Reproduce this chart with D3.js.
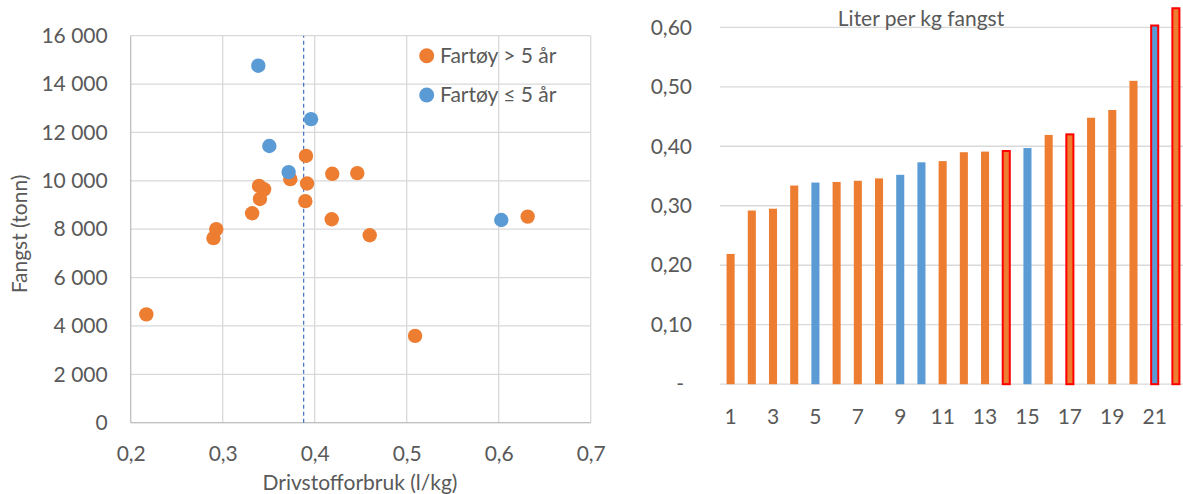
<!DOCTYPE html>
<html><head><meta charset="utf-8">
<script src="https://cdn.jsdelivr.net/npm/d3@7"></script>
<style>
body{margin:0;background:#fff;overflow:hidden}
text{font-family:Lato, "Open Sans", sans-serif; fill:#595959}
</style>
</head><body>
<svg id="c" width="1183" height="494"></svg>
<script>
// ---------- Data: scatter ----------
const olderX = [0.217, 0.290, 0.293, 0.332, 0.3395, 0.3405, 0.345, 0.3735, 0.3898, 0.3905, 0.3917, 0.4185, 0.4191, 0.4463, 0.4598, 0.5091, 0.6315];
const olderY = [4480, 7630, 8000, 8660, 9790, 9250, 9650, 10070, 9160, 11030, 9890, 8410, 10290, 10320, 7750, 3590, 8520];
const newerX = [0.3387, 0.3507, 0.3717, 0.396, 0.6028];
const newerY = [14760, 11440, 10360, 12550, 8380];
const meanX = 0.388;
const scatterXTicks = [0.2, 0.3, 0.4, 0.5, 0.6, 0.7];
const scatterYTicks = [0, 2000, 4000, 6000, 8000, 10000, 12000, 14000, 16000];
const legendLabels = ["Fartøy > 5 år", "Fartøy ≤ 5 år"];
const scatterXTitle = "Drivstofforbruk (l/kg)";
const scatterYTitle = "Fangst (tonn)";

// ---------- Data: bars ----------
const barCategories = [1,2,3,4,5,6,7,8,9,10,11,12,13,14,15,16,17,18,19,20,21,22];
const barValues = [0.219, 0.292, 0.295, 0.334, 0.339, 0.340, 0.342, 0.346, 0.352, 0.373, 0.375, 0.390, 0.391, 0.392, 0.397, 0.419, 0.420, 0.448, 0.461, 0.510, 0.603, 0.632];
const barGroups = ["o","o","o","o","n","o","o","o","n","n","o","o","o","o","n","o","o","o","o","o","n","o"];
const highlighted = [14, 17, 21, 22];
const barYTicks = [0, 0.1, 0.2, 0.3, 0.4, 0.5, 0.6];
const barXTicks = [1,3,5,7,9,11,13,15,17,19,21];
const barTitle = "Liter per kg fangst";

const ORANGE = "#ED7D31", BLUE = "#5B9BD5", GRID = "#D9D9D9", AXIS = "#BFBFBF";
const FS = 21;
const loc = d3.formatLocale({decimal: ",", thousands: "\u00a0", grouping: [3], currency: ["", ""]});

const svg = d3.select("#c");

// ================= Scatter =================
const x = d3.scaleLinear().domain([0.2, 0.7]).range([130.7, 590.7]);
const y = d3.scaleLinear().domain([0, 16000]).range([422.7, 35.7]);

const g1 = svg.append("g");
// horizontal grid
g1.append("g").selectAll("line").data(scatterYTicks).join("line")
  .attr("x1", x(0.2)).attr("x2", x(0.7)).attr("y1", d => y(d)).attr("y2", d => y(d))
  .attr("stroke", GRID).attr("stroke-width", 1.3);
// vertical grid
g1.append("g").selectAll("line").data(scatterXTicks.slice(1)).join("line")
  .attr("x1", d => x(d)).attr("x2", d => x(d)).attr("y1", y(0)).attr("y2", y(16000))
  .attr("stroke", GRID).attr("stroke-width", 1.3);
// axes lines
g1.append("line").attr("x1", x(0.2)).attr("x2", x(0.2)).attr("y1", y(0)).attr("y2", y(16000))
  .attr("stroke", AXIS).attr("stroke-width", 1.3);
g1.append("line").attr("x1", x(0.2)).attr("x2", x(0.7)).attr("y1", y(0)).attr("y2", y(0))
  .attr("stroke", AXIS).attr("stroke-width", 1.3);

// y axis labels
const yAx = g1.append("g").attr("transform", `translate(${x(0.2)},0)`)
  .call(d3.axisLeft(y).tickValues(scatterYTicks).tickSize(0).tickPadding(23).tickFormat(loc.format(",d")));
yAx.select(".domain").remove();
yAx.selectAll("text").attr("font-size", FS).style("font-family", "Lato").attr("fill", "#595959");

// x axis labels
const xAx = g1.append("g").attr("transform", `translate(0,${y(0)})`)
  .call(d3.axisBottom(x).tickValues(scatterXTicks).tickSize(0).tickPadding(23).tickFormat(loc.format(".1f")));
xAx.select(".domain").remove();
xAx.selectAll("text").attr("font-size", FS).style("font-family", "Lato").attr("fill", "#595959");

// mean dashed line
g1.append("line").attr("x1", x(meanX)).attr("x2", x(meanX)).attr("y1", y(0)).attr("y2", y(16000))
  .attr("stroke", "#4472C4").attr("stroke-width", 1.2).attr("stroke-dasharray", "4,3");

// points
g1.append("g").selectAll("circle").data(olderX.map((v, i) => [v, olderY[i]])).join("circle")
  .attr("cx", d => x(d[0])).attr("cy", d => y(d[1])).attr("r", 7.2).attr("fill", ORANGE);
g1.append("g").selectAll("circle").data(newerX.map((v, i) => [v, newerY[i]])).join("circle")
  .attr("cx", d => x(d[0])).attr("cy", d => y(d[1])).attr("r", 7.2).attr("fill", BLUE);

// legend
const lg = g1.append("g");
legendLabels.forEach((lab, i) => {
  const cy = 55.7 + i * 39.3;
  lg.append("circle").attr("cx", 426.7).attr("cy", cy).attr("r", 7.5).attr("fill", i === 0 ? ORANGE : BLUE);
  lg.append("text").attr("x", 440).attr("y", cy).attr("dy", "0.35em").attr("font-size", FS).text(lab);
});

// axis titles
g1.append("text").attr("x", 360).attr("y", 490).attr("text-anchor", "middle").attr("font-size", FS).text(scatterXTitle);
g1.append("text").attr("transform", "translate(27,234) rotate(-90)").attr("text-anchor", "middle")
  .attr("font-size", FS).text(scatterYTitle);

// ================= Bars =================
const bx = d3.scaleBand().domain(barCategories).range([720, 1186.5]).paddingInner(0.62).paddingOuter(0.31);
const by = d3.scaleLinear().domain([0, 0.6]).range([384.2, 27.3]);

const g2 = svg.append("g");
g2.append("g").selectAll("line").data(barYTicks).join("line")
  .attr("x1", 720).attr("x2", 1186).attr("y1", d => by(d)).attr("y2", d => by(d))
  .attr("stroke", GRID).attr("stroke-width", 1.3);

const byAx = g2.append("g").attr("transform", "translate(720,0)")
  .call(d3.axisLeft(by).tickValues(barYTicks).tickSize(0).tickPadding(28)
    .tickFormat(d => d === 0 ? "-" : loc.format(".2f")(d)));
byAx.select(".domain").remove();
byAx.selectAll("text").attr("font-size", FS).style("font-family", "Lato").attr("fill", "#595959");
byAx.selectAll("text").filter(d => d === 0).attr("dx", -8);

const bxAx = g2.append("g").attr("transform", `translate(0,${by(0)})`)
  .call(d3.axisBottom(bx).tickValues(barXTicks).tickSize(0).tickPadding(25));
bxAx.select(".domain").remove();
bxAx.selectAll("text").attr("font-size", FS).style("font-family", "Lato").attr("fill", "#595959");

const bars = barCategories.map((c, i) => ({c, v: barValues[i], g: barGroups[i], h: highlighted.includes(c)}));
g2.append("g").selectAll("rect").data(bars).join("rect")
  .attr("x", d => d.h ? bx(d.c) + 0.5 : bx(d.c))
  .attr("width", d => d.h ? bx.bandwidth() - 1 : bx.bandwidth())
  .attr("y", d => by(d.v))
  .attr("height", d => by(0) - by(d.v))
  .attr("fill", d => d.g === "n" ? BLUE : ORANGE)
  .attr("stroke", d => d.h ? "#FF0000" : "none")
  .attr("stroke-width", d => d.h ? 2 : 0);

g2.append("text").attr("x", 921).attr("y", 26).attr("text-anchor", "middle").attr("font-size", FS).text(barTitle);
</script>
</body></html>
